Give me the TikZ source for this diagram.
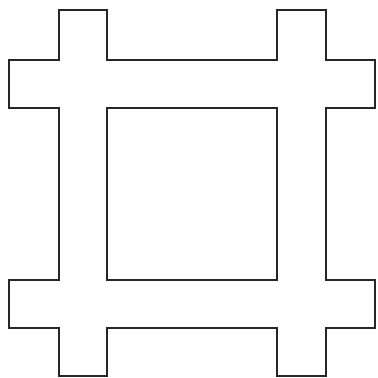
\documentclass[tikz,border=0pt]{standalone}
\usepackage{xcolor}
\usepackage{tikz}

\begin{document}
\begin{tikzpicture}[x=0.01cm, y=-0.01cm,
        outline/.style={draw=black!85, line width=0.55pt, line join=miter}]

        \useasboundingbox (0,0) rectangle (378,378);

        % outer frame with the four arms
        \draw[outline] (59,10) -- (107,10) -- (107,60) -- (277,60) -- (277,10) -- (326,10)
            -- (326,60) -- (375,60) -- (375,108) -- (326,108) -- (326,280) -- (375,280)
            -- (375,328) -- (326,328) -- (326,376) -- (277,376) -- (277,328) -- (107,328)
            -- (107,376) -- (59,376) -- (59,328) -- (9,328) -- (9,280) -- (59,280)
            -- (59,108) -- (9,108) -- (9,60) -- (59,60) -- cycle;

        % inner square
        \draw[outline] (107,108) rectangle (277,280);
    \end{tikzpicture}
\end{document}
